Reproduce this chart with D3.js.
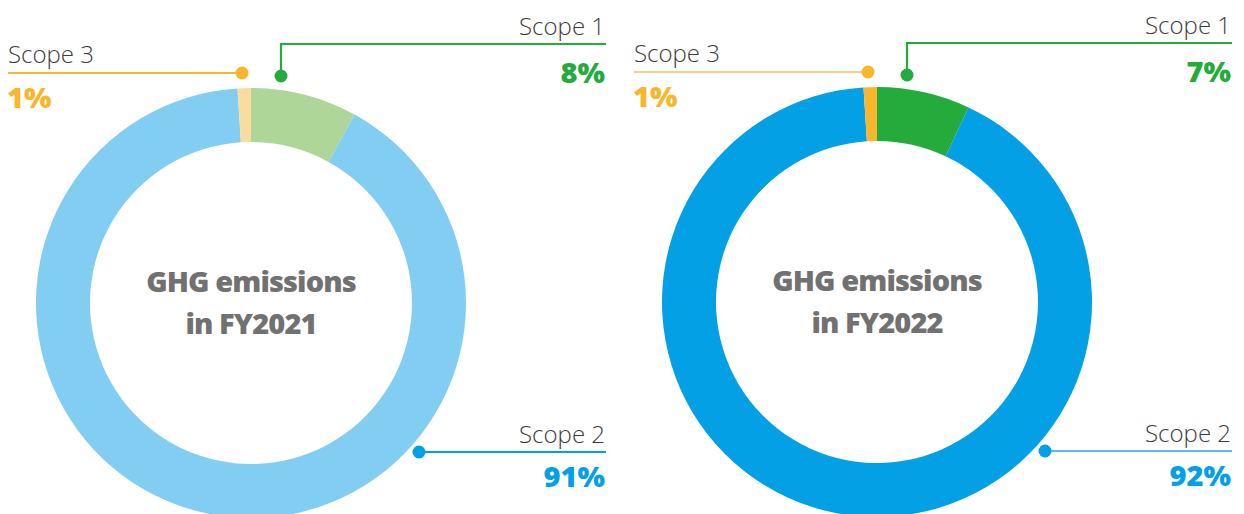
<!DOCTYPE html>
<html>
<head>
<meta charset="utf-8">
<script src="https://cdn.jsdelivr.net/npm/d3@7"></script>
<style>
  html, body { margin: 0; padding: 0; background: #fff; }
  svg { display: block; }
</style>
</head>
<body>
<svg id="chart" width="1244" height="514"></svg>
<script>
// GHG emissions share by scope, two fiscal years
const scopes = ["Scope 1", "Scope 2", "Scope 3"];
const years = ["FY2021", "FY2022"];
const share2021 = [8, 91, 1];
const share2022 = [7, 92, 1];

// Colours: ring fills per year, and the accent colours of labels / leaders
const fill2021 = ["#aed699", "#82cef3", "#fbdca0"];
const fill2022 = ["#24ab3b", "#03a0e6", "#f8b62d"];
const accent = ["#24ab3b", "#03a0e6", "#f8b62d"];
const leader2021 = ["#24ab3b", "#03a0e6", "#f8b62d"];
const leader2022 = ["#24ab3b", "#5cbded", "#fcd27e"];

const svg = d3.select("#chart");
const outerR = 215, innerR = 161;

const pie = d3.pie().sort(null).value(d => d.value).startAngle(0).endAngle(2 * Math.PI);
const arc = d3.arc().innerRadius(innerR).outerRadius(outerR);

const labelFont = "'Open Sans', 'Noto Sans', sans-serif";

function donut(cx, cy, year, values, fills, leaders) {
  const g = svg.append("g").attr("transform", `translate(${cx},${cy})`);
  const data = scopes.map((s, i) => ({ scope: s, value: values[i], i }));

  g.selectAll("path.slice")
    .data(pie(data))
    .join("path")
    .attr("class", "slice")
    .attr("d", arc)
    .attr("fill", d => fills[d.data.i]);

  // centre title
  const title = g.append("text")
    .attr("text-anchor", "middle")
    .attr("font-family", labelFont)
    .attr("font-weight", 800)
    .attr("font-size", 29)
    .attr("fill", "#717171")
    .attr("letter-spacing", -0.9);
  title.append("tspan").attr("x", 0).attr("y", -11).text("GHG emissions");
  title.append("tspan").attr("x", 0).attr("y", 31).text("in " + year);

  const left = -243, right = 355;

  // leader layout: dot offset from centre, elbow / line levels
  const dot3 = [-9, -230], dot1 = [30, -227], dot2 = [168, 149];
  const line1Y = -259, line3Y = -230;

  const pctSize = 29, pctWeight = 800;

  // Scope 3 (upper left)
  g.append("line").attr("x1", left).attr("x2", dot3[0]).attr("y1", line3Y).attr("y2", line3Y)
    .attr("stroke", leaders[2]).attr("stroke-width", 2.2);
  g.append("circle").attr("cx", dot3[0]).attr("cy", dot3[1]).attr("r", 6.5).attr("fill", accent[2]);
  g.append("text").attr("x", left).attr("y", line3Y - 10)
    .attr("font-family", labelFont).attr("font-weight", 300).attr("font-size", 24)
    .attr("fill", "#3e3a39").text(scopes[2]);
  g.append("text").attr("x", left - 1).attr("y", line3Y + 35)
    .attr("font-family", labelFont).attr("font-weight", pctWeight).attr("font-size", pctSize)
    .attr("fill", accent[2]).text(values[2] + "%");

  // Scope 1 (upper right)
  g.append("path")
    .attr("d", d3.line()([[right, line1Y], [dot1[0], line1Y], [dot1[0], dot1[1]]]))
    .attr("fill", "none").attr("stroke", leaders[0]).attr("stroke-width", 2.2);
  g.append("circle").attr("cx", dot1[0]).attr("cy", dot1[1]).attr("r", 6.5).attr("fill", accent[0]);
  g.append("text").attr("x", right - 1).attr("y", line1Y - 9).attr("text-anchor", "end")
    .attr("font-family", labelFont).attr("font-weight", 300).attr("font-size", 24)
    .attr("fill", "#3e3a39").text(scopes[0]);
  g.append("text").attr("x", right - 1).attr("y", line1Y + 39).attr("text-anchor", "end")
    .attr("font-family", labelFont).attr("font-weight", pctWeight).attr("font-size", pctSize)
    .attr("fill", accent[0]).text(values[0] + "%");

  // Scope 2 (lower right)
  g.append("line").attr("x1", dot2[0]).attr("x2", right).attr("y1", dot2[1]).attr("y2", dot2[1])
    .attr("stroke", leaders[1]).attr("stroke-width", 2.2);
  g.append("circle").attr("cx", dot2[0]).attr("cy", dot2[1]).attr("r", 6.5).attr("fill", accent[1]);
  g.append("text").attr("x", right - 1).attr("y", dot2[1] - 9).attr("text-anchor", "end")
    .attr("font-family", labelFont).attr("font-weight", 300).attr("font-size", 24)
    .attr("fill", "#3e3a39").text(scopes[1]);
  g.append("text").attr("x", right - 1).attr("y", dot2[1] + 35).attr("text-anchor", "end")
    .attr("font-family", labelFont).attr("font-weight", pctWeight).attr("font-size", pctSize)
    .attr("fill", accent[1]).text(values[1] + "%");
}

donut(251, 303, years[0], share2021, fill2021, leader2021);
donut(877, 302, years[1], share2022, fill2022, leader2022);
</script>
</body>
</html>
